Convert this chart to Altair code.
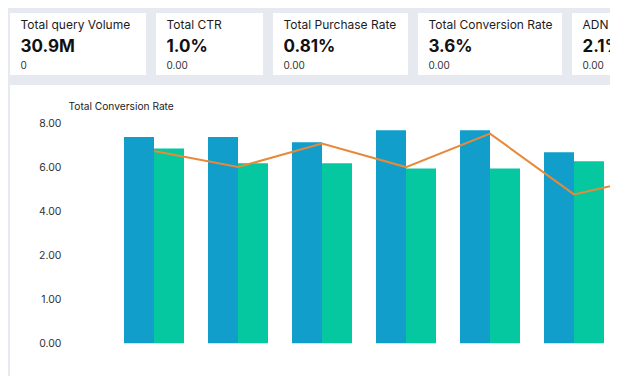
import altair as alt
import pandas as pd

# ---- KPI cards ----
card_titles = ["Total query Volume", "Total CTR", "Total Purchase Rate", "Total Conversion Rate", "ADN CTR"]
card_values = ["30.9M", "1.0%", "0.81%", "3.6%", "2.1%"]
card_subs = ["0", "0.00", "0.00", "0.00", "0.00"]
card_widths = [136, 107, 135, 144, 38]

# ---- main chart data ----
categories = ["P1", "P2", "P3", "P4", "P5", "P6", "P7"]
series_names = ["Series A", "Series B"]
series_a = [7.38, 7.38, 7.14, 7.68, 7.68, 6.68, None]
series_b = [6.86, 6.18, 6.18, 5.95, 5.95, 6.27, None]
line_values = [6.74, 6.01, 7.08, 6.01, 7.53, 4.77, 5.64]
y_ticks = [0, 1, 2, 4, 6, 8]

FONT = "Inter"

cards = []
for t, v, s, w in zip(card_titles, card_values, card_subs, card_widths):
    df = pd.DataFrame({"title": [t], "value": [v], "sub": [s]})
    base = alt.Chart(df)
    c = alt.layer(
        base.mark_text(align="left", baseline="middle", fontSize=12, color="#1c1c1c", font=FONT, clip=True).encode(
            text="title:N", x=alt.value(10.5), y=alt.value(12)),
        base.mark_text(align="left", baseline="middle", fontSize=17, fontWeight="bold", color="#111111", font=FONT, clip=True).encode(
            text="value:N", x=alt.value(10.5), y=alt.value(34)),
        base.mark_text(align="left", baseline="middle", fontSize=10, color="#333333", font=FONT, clip=True).encode(
            text="sub:N", x=alt.value(10.5), y=alt.value(53)),
    ).properties(width=w, height=62)
    cards.append(c)

bars_df = pd.DataFrame({
    "category": categories * 2,
    "series": [series_names[0]] * len(categories) + [series_names[1]] * len(categories),
    "value": series_a + series_b,
})
line_df = pd.DataFrame({"category": categories, "value": line_values})

x_enc = alt.X("category:N", sort=categories, axis=None,
              scale=alt.Scale(paddingInner=0.2857, paddingOuter=0, range=[114, 678]))
y_scale = alt.Scale(domain=y_ticks, range=[258.3, 214.3, 170.3, 126.3, 82.3, 38.3], nice=False)
y_axis = alt.Axis(values=y_ticks, format=".2f", title="Total Conversion Rate",
                  domain=False, ticks=False, grid=False, offset=-51, labelPadding=0,
                  titleAngle=0, titleX=7, titleY=21, titleAlign="left", titleBaseline="middle",
                  labelFont=FONT, labelFontSize=10.5, labelColor="#333333",
                  titleFont=FONT, titleFontSize=10.2, titleFontWeight="normal", titleColor="#222222")

bars = alt.Chart(bars_df).mark_bar(clip=True).encode(
    x=x_enc,
    xOffset=alt.XOffset("series:N", sort=series_names, scale=alt.Scale(paddingInner=0, paddingOuter=0)),
    y=alt.Y("value:Q", scale=y_scale, axis=y_axis),
    color=alt.Color("series:N", scale=alt.Scale(domain=series_names, range=["#119ecb", "#05c8a0"]), legend=None),
)
line = alt.Chart(line_df).mark_line(color="#e8893a", strokeWidth=2, clip=True).encode(
    x=x_enc,
    y=alt.Y("value:Q", scale=y_scale, axis=y_axis),
)
main = alt.layer(bars, line).properties(width=600, height=291)

chart = alt.vconcat(
    alt.hconcat(*cards, spacing=10),
    main,
    spacing=10,
).properties(
    padding={"left": 2, "top": 5, "right": 0, "bottom": 0},
    background="#e6e9f0",
).configure(font=FONT).configure_view(fill="white", strokeWidth=0)

chart.save("out.html", embed_options={"renderer": "svg", "actions": False})
